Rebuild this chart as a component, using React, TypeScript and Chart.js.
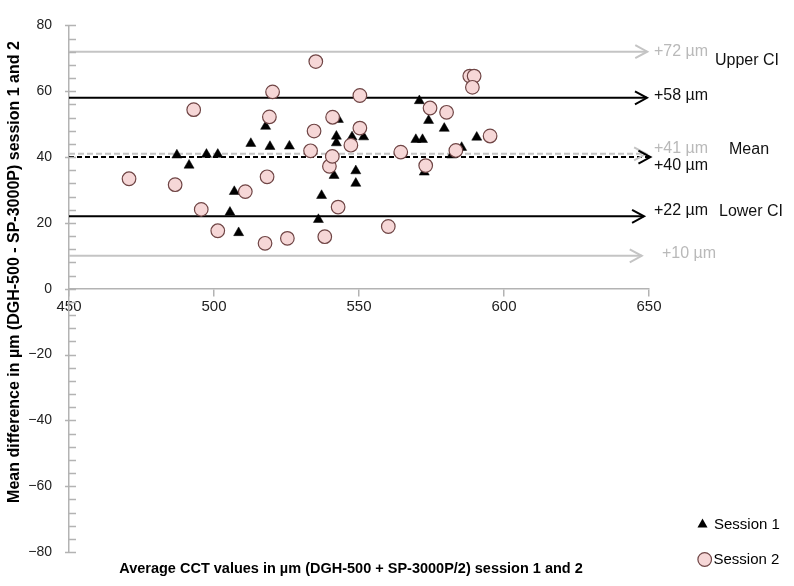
import React, { useEffect, useRef } from 'react';
import { Chart, registerables } from 'chart.js';

Chart.register(...registerables);

// ---- Data ----
const session1X = [487.2, 491.4, 497.4, 501.3, 505.5, 507.0, 508.5, 512.7, 517.8, 519.3, 526.0, 536.0, 537.1, 541.4, 542.2, 542.2, 542.9, 547.6, 548.9, 548.9, 551.6, 569.6, 571.9, 570.8, 574.0, 579.4, 572.5, 582.0, 585.4, 590.6];
const session1Y = [40.6, 37.5, 40.8, 40.8, 23.2, 29.5, 17.0, 44.1, 49.3, 43.2, 43.3, 21.0, 28.3, 34.4, 46.3, 44.3, 51.4, 46.1, 35.8, 32.0, 46.1, 45.3, 45.3, 57.1, 51.1, 48.7, 35.4, 40.6, 42.9, 46.0];

const session2X = [470.7, 486.6, 493.0, 495.6, 501.3, 510.8, 517.6, 518.3, 519.1, 520.2, 525.3, 533.3, 534.5, 535.1, 538.2, 539.8, 540.8, 540.9, 542.8, 547.2, 550.3, 550.3, 560.1, 564.4, 573.0, 574.5, 580.2, 583.4, 588.2, 589.7, 589.1, 595.2];
const session2Y = [33.4, 31.6, 54.4, 24.1, 17.6, 29.5, 13.8, 34.0, 52.2, 59.8, 15.3, 41.9, 47.9, 69.0, 15.8, 37.2, 40.2, 52.1, 24.8, 43.6, 58.7, 48.8, 18.9, 41.5, 37.4, 54.9, 53.6, 42.0, 64.6, 64.6, 61.2, 46.4];

const refValues = [72, 58, 41, 40, 22, 10];
const refStart = 450;
const refEnds = [649.4, 649.3, 649.0, 650.5, 648.3, 647.5];
const refLabels = ['+72 µm', '+58 µm', '+41 µm', '+40 µm', '+22 µm', '+10 µm'];
const refKinds = ['limit', 'ci', 'meanAlt', 'mean', 'ci', 'limit'];

const bandLabels = ['Upper CI', 'Mean', 'Lower CI'];

const xMin = 450, xMax = 650, xStep = 50;
const yMin = -80, yMax = 80, yStep = 20, yMinorStep = 4;

const seriesNames = ['Session 1', 'Session 2'];
const xTitle = 'Average CCT values in µm (DGH-500 + SP-3000P/2) session 1 and 2';
const yTitle = 'Mean difference in µm (DGH-500 - SP-3000P) session 1 and 2';

// ---- Styles ----
const FONT = "'Liberation Sans', Arial, sans-serif";
const NARROW = "'Liberation Sans Narrow', 'Arial Narrow', 'Liberation Sans', sans-serif";
const AXIS_GRAY = '#b3b3b3';
const REF_GRAY = '#c4c4c4';
const LABEL_GRAY = '#b9b9b9';
const CIRCLE_FILL = '#f6d7d7';
const CIRCLE_EDGE = '#6f4545';

const kindStyle: Record<string, { color: string; dash: number[] }> = {
  limit: { color: REF_GRAY, dash: [] },
  ci: { color: '#000000', dash: [] },
  meanAlt: { color: REF_GRAY, dash: [6, 3] },
  mean: { color: '#000000', dash: [5, 3] },
};

const refLabelOffsets = [
  { x: 654, dy: 0, color: LABEL_GRAY },
  { x: 654, dy: -2, color: '#111' },
  { x: 654, dy: -5, color: LABEL_GRAY },
  { x: 654, dy: 8.5, color: '#111' },
  { x: 654, dy: -6, color: '#111' },
  { x: 662, dy: -2, color: LABEL_GRAY },
];

const overlayPlugin = {
  id: 'overlay',
  afterDatasetsDraw(chart: any) {
    const { ctx, scales } = chart;
    const xs = scales.x;
    const ys = scales.y;
    ctx.save();

    // y axis minor / major ticks
    ctx.strokeStyle = AXIS_GRAY;
    ctx.lineWidth = 1.5;
    for (let v = yMin; v <= yMax + 1e-6; v += yMinorStep) {
      const py = Math.round(ys.getPixelForValue(v)) + 0.5;
      const major = Math.abs(v % yStep) < 1e-6;
      ctx.beginPath();
      ctx.moveTo(chart.chartArea.left - (major ? 4 : 0), py);
      ctx.lineTo(chart.chartArea.left + 7, py);
      ctx.stroke();
    }

    // arrowheads
    refValues.forEach((v, i) => {
      const st = kindStyle[refKinds[i]];
      const tipX = xs.getPixelForValue(refEnds[i]);
      const py = ys.getPixelForValue(v);
      ctx.strokeStyle = st.color;
      ctx.lineWidth = 2;
      ctx.setLineDash([]);
      ctx.beginPath();
      ctx.moveTo(tipX - 12, py - 6.5);
      ctx.lineTo(tipX, py);
      ctx.lineTo(tipX - 12, py + 6.5);
      ctx.stroke();
    });

    // ref labels
    ctx.font = `16px ${FONT}`;
    ctx.textBaseline = 'middle';
    ctx.textAlign = 'left';
    refValues.forEach((v, i) => {
      const o = refLabelOffsets[i];
      ctx.fillStyle = o.color;
      ctx.fillText(refLabels[i], o.x, ys.getPixelForValue(v) + o.dy);
    });
    ctx.fillStyle = '#111';
    ctx.fillText(bandLabels[0], 715, 61);
    ctx.fillText(bandLabels[1], 729, 150);
    ctx.fillText(bandLabels[2], 719, 212);

    // legend
    ctx.font = `15px ${FONT}`;
    ctx.fillStyle = '#000';
    ctx.beginPath();
    ctx.moveTo(702.5, 518.5);
    ctx.lineTo(707.5, 527.5);
    ctx.lineTo(697.5, 527.5);
    ctx.closePath();
    ctx.fill();
    ctx.fillText(seriesNames[0], 714, 525);
    ctx.beginPath();
    ctx.arc(704.7, 559.5, 6.8, 0, Math.PI * 2);
    ctx.fillStyle = CIRCLE_FILL;
    ctx.fill();
    ctx.lineWidth = 1.2;
    ctx.strokeStyle = CIRCLE_EDGE;
    ctx.stroke();
    ctx.fillStyle = '#000';
    ctx.fillText(seriesNames[1], 713.5, 560);

    // axis titles
    ctx.textAlign = 'center';
    ctx.fillStyle = '#000';
    ctx.font = `bold 14.5px ${FONT}`;
    ctx.fillText(xTitle, 351, 569);
    ctx.font = `bold 16px ${FONT}`;
    ctx.translate(15, 272);
    ctx.rotate(-Math.PI / 2);
    ctx.fillText(yTitle, 0, 0);

    ctx.restore();
  },
};

export default function App() {
  const canvasRef = useRef<HTMLCanvasElement | null>(null);

  useEffect(() => {
    if (!canvasRef.current) return;

    const refDatasets = refValues.map((v, i) => {
      const st = kindStyle[refKinds[i]];
      return {
        type: 'line' as const,
        label: refLabels[i],
        data: [{ x: refStart, y: v }, { x: refEnds[i], y: v }],
        borderColor: st.color,
        borderWidth: 2,
        borderDash: st.dash,
        pointRadius: 0,
        showLine: true,
        fill: false,
        clip: false as any,
        order: 5,
      };
    });

    const chart = new Chart(canvasRef.current, {
      type: 'scatter',
      data: {
        datasets: [
          {
            label: seriesNames[0],
            data: session1X.map((x, i) => ({ x, y: session1Y[i] })),
            pointStyle: 'triangle',
            pointRadius: 5.8,
            backgroundColor: '#000',
            borderColor: '#000',
            borderWidth: 0.5,
            order: 3,
          },
          {
            label: seriesNames[1],
            data: session2X.map((x, i) => ({ x, y: session2Y[i] })),
            pointStyle: 'circle',
            pointRadius: 6.8,
            backgroundColor: CIRCLE_FILL,
            borderColor: CIRCLE_EDGE,
            borderWidth: 1.2,
            order: 1,
          },
          ...refDatasets,
        ] as any,
      },
      options: {
        animation: false,
        responsive: false,
        devicePixelRatio: 1,
        layout: { padding: { left: 0, right: 145, top: 14, bottom: 34 } },
        plugins: {
          legend: { display: false },
          tooltip: { enabled: false },
          title: { display: false },
        },
        scales: {
          x: {
            type: 'linear',
            position: { y: 0 } as any,
            min: xMin,
            max: xMax,
            ticks: {
              stepSize: xStep,
              padding: 2,
              maxRotation: 0,
              color: '#222',
              font: { family: NARROW, size: 15 },
            },
            grid: { drawOnChartArea: false, drawTicks: true, tickLength: 7, color: AXIS_GRAY, lineWidth: 1.5 },
            border: { display: true, color: AXIS_GRAY, width: 1.5 },
          },
          y: {
            type: 'linear',
            position: 'left',
            min: yMin,
            max: yMax,
            ticks: {
              stepSize: yStep,
              padding: 17,
              color: '#222',
              font: { family: FONT, size: 14 },
              callback: (v: any) => (v < 0 ? '\u2212' + Math.abs(v) : String(v)),
            },
            grid: { display: false, drawTicks: false },
            border: { display: true, color: AXIS_GRAY, width: 1.5 },
            afterFit: (s: any) => {
              s.width = 69;
            },
          },
        },
      },
      plugins: [overlayPlugin],
    });

    return () => chart.destroy();
  }, []);

  return (
    <div style={{ position: 'absolute', left: 0, top: 0, width: 794, height: 586, background: '#fff' }}>
      <canvas ref={canvasRef} width={794} height={586} style={{ display: 'block' }} />
    </div>
  );
}
